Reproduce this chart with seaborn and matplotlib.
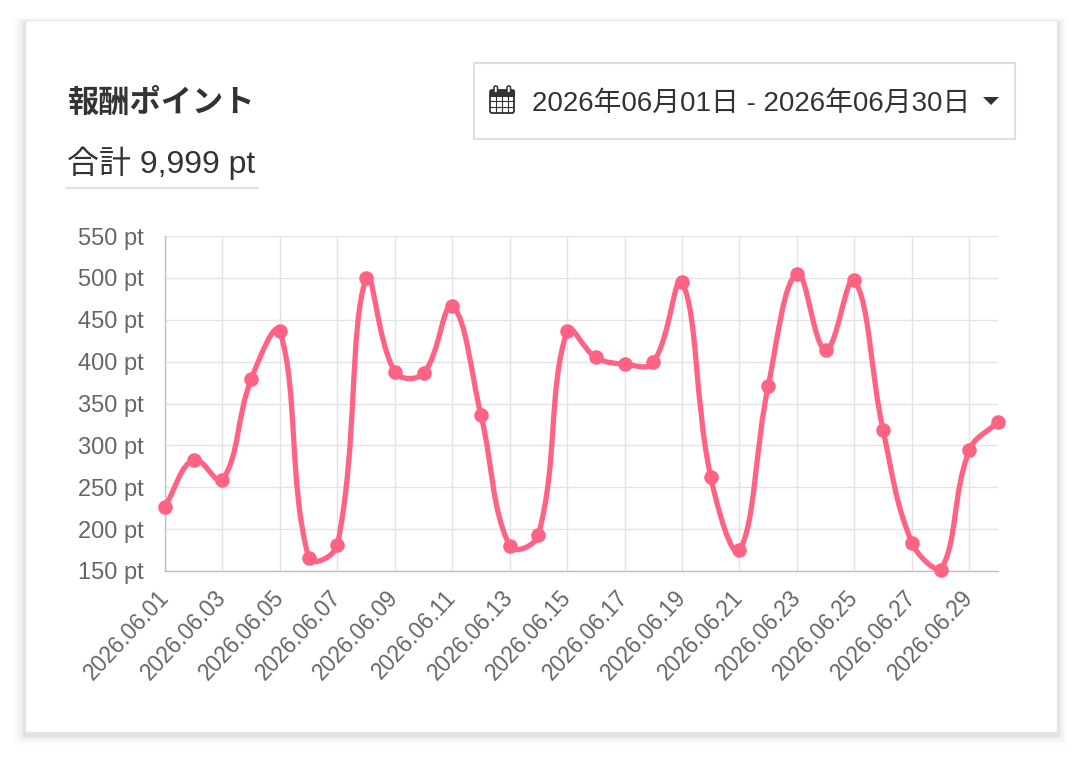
import numpy as np
import matplotlib
matplotlib.use("Agg")
import matplotlib.pyplot as plt
import matplotlib.transforms as mtransforms
from matplotlib.patches import Rectangle, FancyBboxPatch, PathPatch, Polygon
from matplotlib.lines import Line2D
from matplotlib.path import Path
import seaborn as sns

# ---------------- data ----------------
days = list(range(1, 31))
points = [227, 283, 259, 379, 436, 166, 181, 500, 388, 386,
          466, 336, 180, 193, 437, 405, 397, 399, 495, 262,
          175, 371, 505, 414, 497, 318, 184, 151, 294, 328]
tick_days = list(range(1, 30, 2))
tick_labels = [f"2026.06.{d:02d}" for d in tick_days]
y_ticks = [150, 200, 250, 300, 350, 400, 450, 500, 550]
y_labels = [f"{v} pt" for v in y_ticks]
title_text = "報酬ポイント"
total_text = "合計 9,999 pt"
date_range_text = "2026年06月01日 - 2026年06月30日"

# ---------------- style ----------------
sns.set_style("white")
plt.rcParams["font.family"] = ["Liberation Sans", "Noto Sans CJK JP", "DejaVu Sans"]
plt.rcParams["grid.alpha"] = 1.0

PINK = "#FF6384"
GRID = "#e3e3e3"
ZERO = "#bfbfbf"

W, H = 1088, 760
fig = plt.figure(figsize=(W / 100, H / 100), dpi=100)
fig.patch.set_facecolor("white")
# pixel (from top-left) -> figure transform
T = mtransforms.Affine2D().scale(1 / W, -1 / H).translate(0, 1) + fig.transFigure

# ---------------- card with shadow ----------------
cx0, cy0, cx1, cy1 = 25, 20, 1057, 732
for g, a in [(16, 0.010), (13, 0.012), (10, 0.015), (7, 0.018), (5, 0.022), (3, 0.03)]:
    fig.add_artist(Rectangle((cx0 - g * 0.7, cy0 - g * 0.4 + 3), (cx1 - cx0) + 1.4 * g,
                             (cy1 - cy0) + g * 1.0, transform=T, facecolor="black",
                             edgecolor="none", alpha=a, zorder=-20))
fig.add_artist(Rectangle((cx0, cy0), cx1 - cx0, cy1 - cy0, transform=T,
                         facecolor="white", edgecolor="#e6e6e6", lw=1.0, zorder=-10))

# ---------------- header texts ----------------
fig.text(67, 112, title_text, transform=T, fontsize=22.5, fontweight="bold",
         color="#333333", ha="left", va="baseline",
         family=["Noto Sans CJK JP", "DejaVu Sans"])
fig.text(67, 173, total_text, transform=T, fontsize=23, color="#333333",
         ha="left", va="baseline", family=["Liberation Sans", "Noto Sans CJK JP"])
fig.add_artist(Line2D([66, 258], [188, 188], transform=T, color="#e2e2e2", lw=1.5))

# date picker box
fig.add_artist(Rectangle((474, 63), 541, 76, transform=T, facecolor="white",
                         edgecolor="#dedede", lw=1.5, zorder=1))
fig.text(532, 111, date_range_text, transform=T, fontsize=20, color="#333333",
         ha="left", va="baseline", family=["Liberation Sans", "Noto Sans CJK JP"], zorder=2)
fig.add_artist(Polygon([(983, 97), (999, 97), (991, 105)], closed=True, transform=T,
                       facecolor="#333333", edgecolor="none", zorder=2))
# calendar icon
ix0, iy0, ix1, iy1 = 490, 90, 514, 113
fig.add_artist(FancyBboxPatch((ix0, iy0), ix1 - ix0, iy1 - iy0,
                              boxstyle="round,pad=0,rounding_size=2", transform=T,
                              facecolor="white", edgecolor="#333333", lw=1.3, zorder=2))
fig.add_artist(Rectangle((ix0, iy0), ix1 - ix0, 5.5, transform=T, facecolor="#333333",
                         edgecolor="#333333", lw=0.8, zorder=3))
for k in range(1, 4):
    xx = ix0 + (ix1 - ix0) * k / 4
    fig.add_artist(Line2D([xx, xx], [iy0 + 5.5, iy1], transform=T, color="#333333", lw=0.8, zorder=3))
for k in range(1, 3):
    yy = iy0 + 5.5 + (iy1 - iy0 - 5.5) * k / 3
    fig.add_artist(Line2D([ix0, ix1], [yy, yy], transform=T, color="#333333", lw=0.8, zorder=3))
for rx in (494, 507):
    fig.add_artist(FancyBboxPatch((rx, 86), 3.5, 7, boxstyle="round,pad=0,rounding_size=1.5",
                                  transform=T, facecolor="white", edgecolor="#333333",
                                  lw=1.1, zorder=4))

# ---------------- chart ----------------
ax_l, ax_t, ax_r, ax_b = 165, 236, 998, 571
ax = fig.add_axes([ax_l / W, 1 - ax_b / H, (ax_r - ax_l) / W, (ax_b - ax_t) / H])
ax.set_facecolor("none")
ax.set_zorder(5)

sns.scatterplot(x=days, y=points, ax=ax, color=PINK, s=110, edgecolor=PINK,
                linewidth=0, zorder=6, clip_on=False, legend=False)
ax.set_xlim(1, 30)
ax.set_ylim(150, 550)

# Chart.js-style spline (tension 0.4) through the data, computed in pixel space
P = ax.transData.transform(np.column_stack([days, points]).astype(float))
n = len(P)
tension = 0.4
cprev = np.zeros_like(P)
cnext = np.zeros_like(P)
for i in range(n):
    prv = P[i - 1] if i > 0 else P[i]
    cur = P[i]
    nxt = P[i + 1] if i < n - 1 else P[i]
    d01 = np.hypot(*(cur - prv))
    d12 = np.hypot(*(nxt - cur))
    s = d01 + d12
    s01 = d01 / s if s else 0.0
    s12 = d12 / s if s else 0.0
    cprev[i] = cur - tension * s01 * (nxt - prv)
    cnext[i] = cur + tension * s12 * (nxt - prv)
bb = ax.bbox
for arr in (cprev, cnext):
    arr[:, 0] = np.clip(arr[:, 0], bb.x0, bb.x1)
    arr[:, 1] = np.clip(arr[:, 1], bb.y0, bb.y1)
verts = [P[0]]
codes = [Path.MOVETO]
for i in range(1, n):
    verts += [cnext[i - 1], cprev[i], P[i]]
    codes += [Path.CURVE4] * 3
data_verts = ax.transData.inverted().transform(np.array(verts))
curve = PathPatch(Path(data_verts, codes), transform=ax.transData, facecolor="none",
                  edgecolor=PINK, lw=3.8, zorder=4, capstyle="round", joinstyle="round")
ax.add_patch(curve)

# axes decoration
ax.set_xticks(tick_days)
ax.set_xticklabels(tick_labels, rotation=47, ha="right", va="center", rotation_mode="anchor")
ax.set_yticks(y_ticks)
ax.set_yticklabels(y_labels)
ax.tick_params(axis="both", length=13.7, width=1.0, color=GRID, labelcolor="#666666",
               direction="out")
ax.tick_params(axis="y", labelsize=17, pad=1.5)
ax.tick_params(axis="x", labelsize=16.3, pad=3)
ax.grid(True, color=GRID, lw=1.0, alpha=1.0)
ax.set_axisbelow(True)
for side in ("top", "right"):
    ax.spines[side].set_visible(False)
for side in ("left", "bottom"):
    ax.spines[side].set_color(ZERO)
    ax.spines[side].set_linewidth(1.0)
ax.set_xlabel("")
ax.set_ylabel("")

fig.savefig("out.png", dpi=100, facecolor="white")
